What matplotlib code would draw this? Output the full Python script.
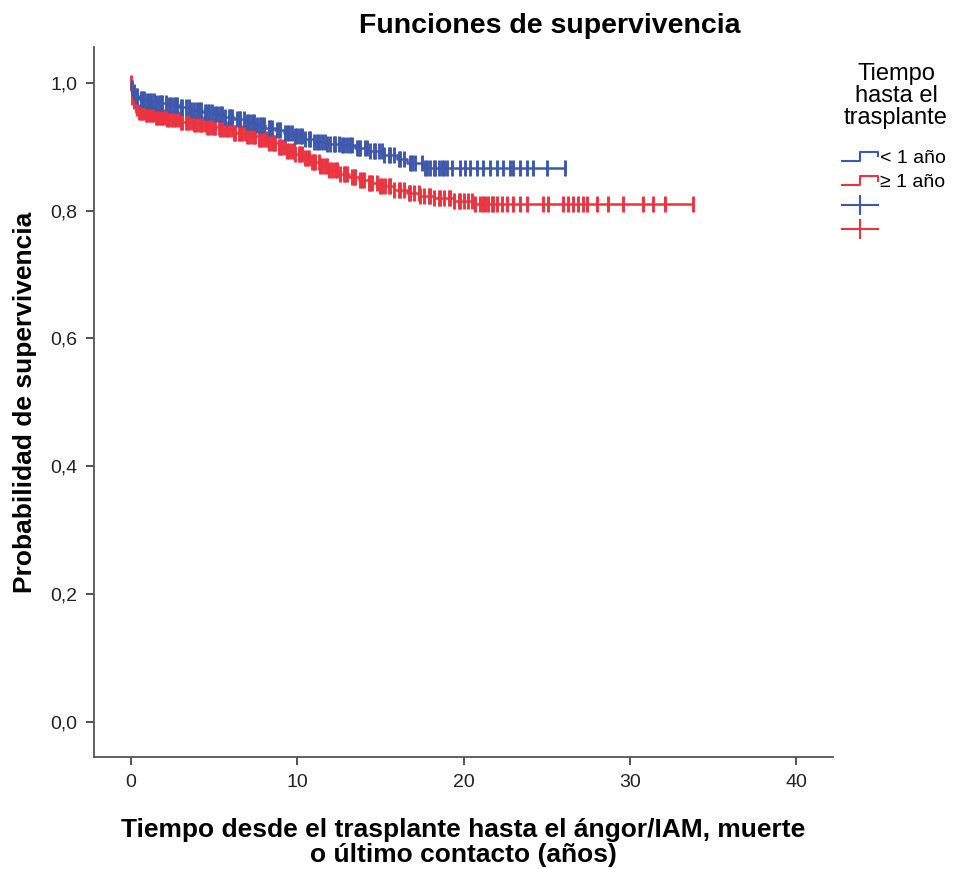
import numpy as np
import matplotlib
matplotlib.use("Agg")
import matplotlib.pyplot as plt
from matplotlib.lines import Line2D
from matplotlib.legend_handler import HandlerBase

plt.rcParams['font.family'] = ['Liberation Sans', 'DejaVu Sans']

# ── DATA ──────────────────────────────────────────────────────────────────────
group_labels = ["< 1 año", "\u2265 1 año"]
legend_title = "Tiempo\nhasta el\ntrasplante"

# < 1 año : event times (years) and survival after each event
blue_t = [0.05, 0.15, 0.3, 0.5, 0.9, 1.5, 2.2, 2.9, 3.6, 4.3, 5.0, 5.6, 6.2,
          6.9, 7.5, 8.1, 8.7, 9.2, 9.8, 10.4, 11.0, 11.8, 12.7, 13.5, 14.3,
          15.2, 16.0, 16.6, 17.6]
blue_s = [0.992, 0.985, 0.979, 0.975, 0.971, 0.968, 0.965, 0.962, 0.958,
          0.955, 0.951, 0.947, 0.943, 0.939, 0.934, 0.930, 0.926, 0.921,
          0.916, 0.912, 0.908, 0.905, 0.902, 0.898, 0.893, 0.887, 0.880,
          0.874, 0.867]
blue_cens = [0.1, 0.2, 0.3, 0.4, 0.6, 0.7, 0.8, 1.0, 1.1, 1.2, 1.4, 1.5, 1.7,
             1.8, 1.9, 2.1, 2.3, 2.4, 2.6, 2.7, 2.8, 3.0, 3.1, 3.3, 3.5, 3.6,
             3.8, 4.0, 4.1, 4.2, 4.5, 4.6, 4.7, 4.9, 5.1, 5.2, 5.4, 5.5, 5.7,
             5.9, 6.0, 6.1, 6.4, 6.5, 6.6, 6.8, 7.0, 7.1, 7.3, 7.4, 7.6, 7.8,
             7.9, 8.0, 8.3, 8.4, 8.5, 8.8, 8.9, 9.0, 9.3, 9.4, 9.5, 9.7, 9.9,
             10.0, 10.2, 10.3, 10.5, 10.7, 10.8, 11.0, 11.2, 11.3, 11.5, 11.7,
             11.8, 12.0, 12.2, 12.3, 12.5, 12.7, 12.8, 13.0, 13.2, 13.3, 13.6,
             13.7, 13.8, 14.1, 14.2, 14.4, 14.6, 14.7, 14.9, 15.1, 15.2, 15.5,
             15.6, 15.8, 16.1, 16.2, 16.4, 16.8, 16.9, 17.1, 17.5, 17.7, 17.8,
             18.0, 18.2, 18.3, 18.5, 18.7, 18.8, 19.0, 19.3, 19.8, 20.1, 20.4,
             20.8, 21.2, 21.6, 22.0, 22.4, 22.8, 23.0, 23.4, 23.8, 24.2, 25.0,
             26.1]

# >= 1 año
red_t = [0.02, 0.06, 0.1, 0.16, 0.24, 0.35, 0.5, 0.9, 1.5, 2.2, 3.0, 3.8, 4.6,
         5.4, 6.2, 7.0, 7.7, 8.3, 8.9, 9.4, 9.9, 10.4, 10.9, 11.4, 11.9, 12.5,
         13.1, 13.7, 14.3, 15.0, 15.8, 16.6, 17.4, 18.2, 19.4, 20.6]
red_s = [0.993, 0.985, 0.978, 0.971, 0.965, 0.960, 0.955, 0.951, 0.947, 0.943,
         0.939, 0.935, 0.931, 0.927, 0.922, 0.917, 0.912, 0.906, 0.900, 0.894,
         0.888, 0.882, 0.876, 0.870, 0.864, 0.858, 0.853, 0.848, 0.843, 0.838,
         0.833, 0.828, 0.823, 0.820, 0.815, 0.810]
red_cens = [0.0, 0.1, 0.2, 0.3, 0.4, 0.5, 0.6, 0.7, 0.8, 0.9, 1.0, 1.1, 1.2,
            1.3, 1.4, 1.5, 1.6, 1.7, 1.8, 1.9, 2.0, 2.1, 2.2, 2.3, 2.5, 2.6,
            2.7, 2.9, 3.0, 3.1, 3.3, 3.4, 3.5, 3.7, 3.8, 3.9, 4.1, 4.2, 4.3,
            4.5, 4.6, 4.7, 4.9, 5.0, 5.1, 5.3, 5.4, 5.5, 5.7, 5.8, 5.9, 6.1,
            6.2, 6.3, 6.5, 6.6, 6.7, 6.9, 7.0, 7.1, 7.3, 7.4, 7.5, 7.7, 7.8,
            7.9, 8.1, 8.2, 8.3, 8.5, 8.6, 8.7, 8.9, 9.0, 9.1, 9.3, 9.4, 9.5,
            9.7, 9.8, 9.9, 10.1, 10.2, 10.3, 10.5, 10.6, 10.7, 10.9, 11.0,
            11.1, 11.3, 11.4, 11.5, 11.7, 11.8, 11.9, 12.1, 12.3, 12.4, 12.6,
            12.8, 12.9, 13.0, 13.3, 13.4, 13.5, 13.8, 13.9, 14.0, 14.3, 14.4,
            14.5, 14.8, 15.0, 15.1, 15.3, 15.5, 15.6, 15.8, 16.1, 16.2, 16.4,
            16.7, 16.8, 17.0, 17.3, 17.4, 17.6, 17.9, 18.0, 18.2, 18.5, 18.6,
            18.8, 19.1, 19.2, 19.4, 19.7, 19.8, 20.0, 20.3, 20.5, 20.7, 21.0,
            21.2, 21.3, 21.5, 21.7, 21.8, 22.0, 22.3, 22.6, 23.0, 23.4, 23.8,
            24.8, 25.1, 26.0, 26.3, 26.6, 26.9, 27.2, 27.4, 28.0, 28.7, 29.6,
            30.8, 31.4, 32.1, 33.8]

x_ticks = [0, 10, 20, 30, 40]
y_ticks = [0.0, 0.2, 0.4, 0.6, 0.8, 1.0]

BLUE = "#3e58ac"
RED = "#ec3340"


def km_curve(t, s, cens):
    """Build step arrays (starting at S=1) and survival at censor times."""
    tt = np.concatenate([[0.0], t])
    ss = np.concatenate([[1.0], s])
    end = max(max(cens), tt[-1])
    tt = np.append(tt, end)
    ss = np.append(ss, ss[-1])
    idx = np.searchsorted(tt, cens, side="right") - 1
    return tt, ss, ss[idx]


class StepHandler(HandlerBase):
    def create_artists(self, legend, orig_handle, xdescent, ydescent,
                       width, height, fontsize, trans):
        x0, y0 = -xdescent, -ydescent
        xs = np.array([0, 0.5, 0.5, 1.0, 1.0]) * width + x0
        ys = np.array([0.15, 0.15, 0.8, 0.8, 0.45]) * height + y0
        ln = Line2D(xs, ys, color=orig_handle.get_color(), lw=1.5,
                    transform=trans)
        return [ln]


# ── PLOT ──────────────────────────────────────────────────────────────────────
fig = plt.figure(figsize=(9.54, 8.69), dpi=100)
ax = fig.add_axes([0.0985, 0.1289, 0.7747, 0.817])

for t, s, cens, col in [(red_t, red_s, red_cens, RED),
                        (blue_t, blue_s, blue_cens, BLUE)]:
    tt, ss, sc = km_curve(t, s, cens)
    ax.step(tt, ss, where="post", color=col, lw=1.8)
    ax.plot(cens, sc, ls="none", marker="|", markersize=11,
            markeredgewidth=2.1, color=col)

ax.set_xlim(-2.2, 42.2)
ax.set_ylim(-0.055, 1.056)
ax.set_xticks(x_ticks)
ax.set_yticks(y_ticks)
ax.set_yticklabels(["{:.1f}".format(v).replace(".", ",") for v in y_ticks])
ax.tick_params(direction="out", length=6, width=1.3, colors="#444444",
               labelsize=14, labelcolor="#222222", pad=6)
for side in ["top", "right"]:
    ax.spines[side].set_visible(False)
for side in ["left", "bottom"]:
    ax.spines[side].set_color("#555555")
    ax.spines[side].set_linewidth(1.3)

ax.set_ylabel("Probabilidad de supervivencia", fontsize=19, fontweight="bold")
ax.yaxis.set_label_coords(-0.077, 0.5)
ax.set_xlabel("Tiempo desde el trasplante hasta el ángor/IAM, muerte\n"
              "o último contacto (años)", fontsize=19, fontweight="bold",
              linespacing=1.05)
ax.xaxis.set_label_coords(0.5, -0.086)
fig.text(550 / 954, 1 - 26 / 869, "Funciones de supervivencia",
         fontsize=20.5, fontweight="bold", ha="center", va="center")

# legend: centred title block + entries below it
fig.text(896 / 954, 1 - 96 / 869, legend_title, fontsize=17, ha="center",
         va="center", multialignment="center", linespacing=1.02)

handles = [Line2D([], [], color=BLUE), Line2D([], [], color=RED),
           Line2D([], [], color=BLUE, lw=1.5, marker="|", markersize=14,
                  markeredgewidth=1.5),
           Line2D([], [], color=RED, lw=1.5, marker="|", markersize=14,
                  markeredgewidth=1.5)]
labels = group_labels + ["", ""]
fig.legend(handles, labels, loc="upper left",
           bbox_to_anchor=(842 / 954, 1 - 149 / 869), frameon=False,
           fontsize=14, borderpad=0, borderaxespad=0,
           handlelength=1.85, handletextpad=0.1, labelspacing=0.35,
           numpoints=1,
           handler_map={handles[0]: StepHandler(),
                        handles[1]: StepHandler()})

fig.savefig("out.png", dpi=100)
